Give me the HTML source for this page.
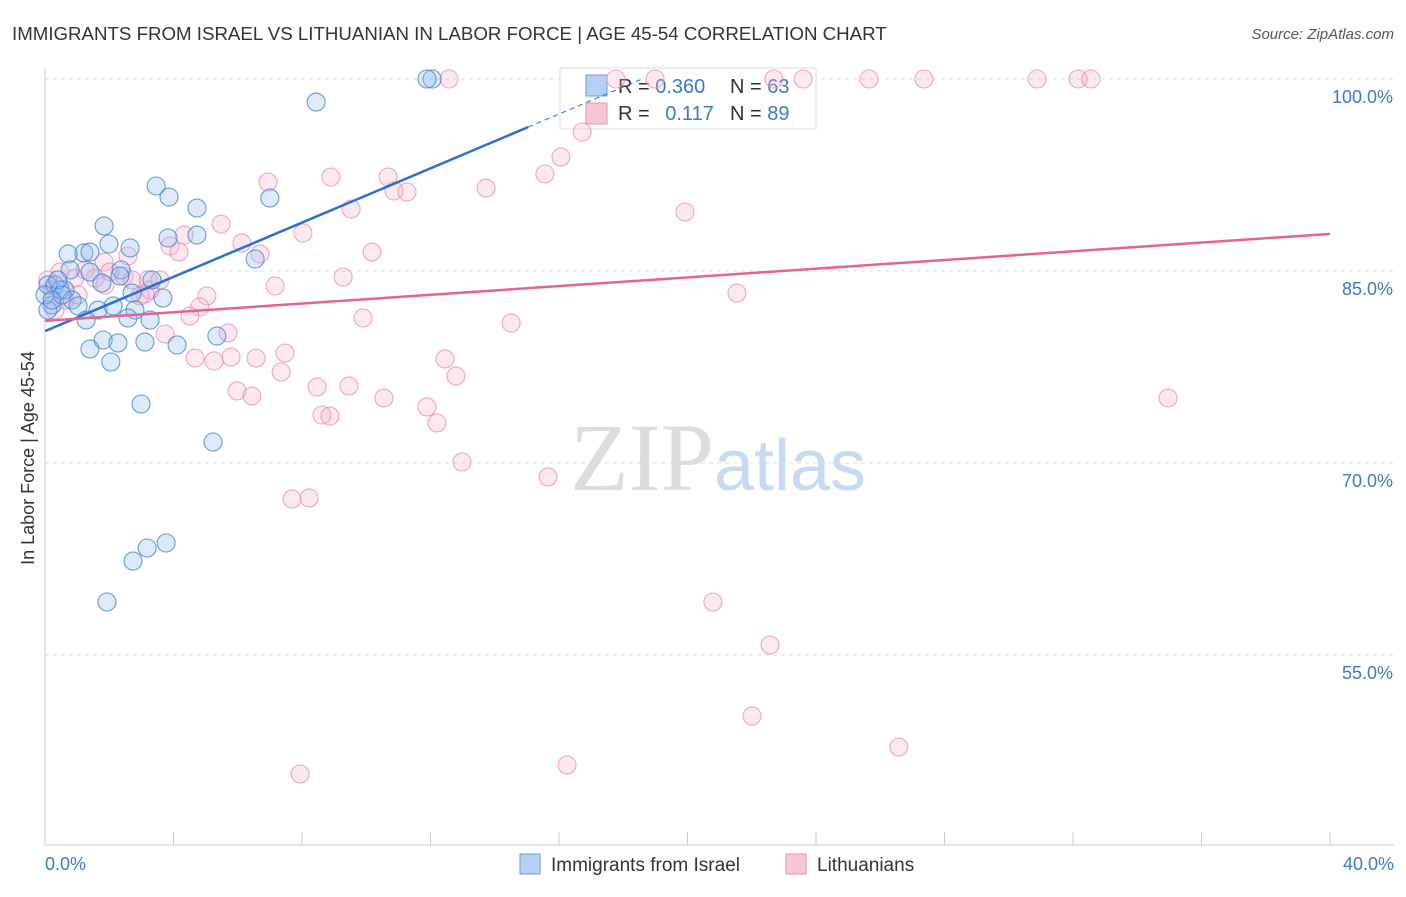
<!DOCTYPE html>
<html><head><meta charset="utf-8"><style>
body{margin:0;background:#fff;font-family:"Liberation Sans",sans-serif}
svg text{font-family:"Liberation Sans",sans-serif}
</style></head><body>
<svg id="c" width="1406" height="892">
<text x="12" y="40" font-size="18.7" fill="#333">IMMIGRANTS FROM ISRAEL VS LITHUANIAN IN LABOR FORCE | AGE 45-54 CORRELATION CHART</text>
<text x="1394" y="39" font-size="15" fill="#555" text-anchor="end" font-style="italic">Source: ZipAtlas.com</text>
<text x="34" y="458" font-size="18" fill="#333" text-anchor="middle" transform="rotate(-90 34 458)">In Labor Force | Age 45-54</text>
<text x="718" y="490" font-size="96" fill="#ddd" text-anchor="middle" font-family="Liberation Serif"><tspan font-family="Liberation Serif">ZIP</tspan><tspan fill="#c8daf2" font-family="Liberation Sans" font-size="72">atlas</tspan></text>
<g id="grid"></g>
<g>
<rect x="560" y="68" width="256" height="61" fill="#fff" stroke="#ddd"/>
<rect x="586" y="75" width="21" height="21" fill="#b5d0f5" stroke="#6a9de0"/>
<rect x="586" y="103" width="21" height="21" fill="#f8c5d5" stroke="#e896b2"/>
<text x="618" y="93" font-size="20" fill="#333">R = <tspan fill="#3a78d8">0.360</tspan></text>
<text x="730" y="93" font-size="20" fill="#333">N = <tspan fill="#3a78d8">63</tspan></text>
<text x="618" y="120" font-size="20" fill="#333">R = <tspan fill="#3a78d8" dx="10">0.117</tspan></text>
<text x="730" y="120" font-size="20" fill="#333">N = <tspan fill="#3a78d8">89</tspan></text>
</g>
<g id="pts"></g><g id="lines"></g>
<g>
<rect x="520" y="854" width="20" height="20" fill="#b5d0f5" stroke="#6a9de0"/>
<text x="551" y="871" font-size="19" fill="#333">Immigrants from Israel</text>
<rect x="786" y="854" width="20" height="20" fill="#f8c5d5" stroke="#e896b2"/>
<text x="817" y="871" font-size="19" fill="#333">Lithuanians</text>
</g>
</svg>
<script>
const yTicks=[100,85,70,55];
const yTickLabels=["100.0%","85.0%","70.0%","55.0%"];
const xTicks=[0,4,8,12,16,20,24,28,32,36,40];
const blueX=[12.05,11.89,8.44,3.46,3.86,7.00,4.73,1.84,3.83,4.73,1.99,2.65,1.21,1.40,0.72,6.54,2.37,0.78,1.40,0.09,0.31,0.62,0.47,3.33,2.33,1.77,2.71,3.67,0.84,1.03,0.22,1.65,2.12,2.80,1.28,2.58,3.27,0.09,5.35,1.81,2.27,3.11,4.11,1.40,2.05,2.99,5.23,3.77,3.18,2.74,1.93,0.40,0.53,0.0,0.22];
const blueY=[100,100,98.2,91.64,90.78,90.7,89.92,88.52,87.58,87.81,87.11,86.8,86.41,86.48,86.33,85.94,85.08,85.08,84.92,83.91,83.91,83.52,83.52,84.3,84.61,84.06,83.28,82.89,82.73,82.27,82.34,81.95,82.27,81.95,81.17,81.33,81.17,81.95,79.92,79.61,79.38,79.45,79.22,78.91,77.89,74.61,71.64,63.75,63.36,62.34,59.14,84.3,83.13,83.13,82.73];
const pinkX=[12.58,17.77,18.99,22.69,23.60,25.65,27.36,30.88,32.16,32.56,16.72,16.06,8.90,15.56,6.94,10.68,10.86,11.27,13.73,9.53,19.92,5.48,4.33,8.03,3.89,6.13,4.17,6.69,10.18,2.58,1.84,3.21,2.46,9.28,7.16,5.04,21.54,3.11,2.96,4.82,4.51,9.90,14.51,3.74,5.70,4.67,5.26,5.79,6.57,7.47,12.45,7.35,12.79,8.47,9.46,5.98,6.44,10.55,11.89,8.62,8.87,12.20,34.96,12.98,15.66,7.69,8.22,20.79,22.57,22.01,26.58,16.25,7.94,0.47,0.93,1.25,1.56,2.02,0.22,0.62,0.31,1.87,2.71,3.27,0.09,1.03,3.58];
const pinkY=[100,100,100,100,100,100,100,100,100,100,95.86,93.91,92.34,92.58,91.95,92.34,91.25,91.17,91.48,89.84,89.61,88.67,87.81,87.97,86.95,87.19,86.48,86.33,86.48,86.17,85.7,84.3,84.61,84.53,83.83,83.05,83.28,83.2,83.05,82.19,81.48,81.33,80.94,80.08,80.16,78.2,77.97,78.28,78.2,78.59,78.13,77.11,76.8,75.94,76.02,75.63,75.23,75.08,74.38,73.75,73.67,73.13,75.08,70.08,68.91,67.19,67.27,59.14,55.78,50.23,47.81,46.41,45.7,84.92,84.45,85.08,84.45,84.92,83.52,82.73,81.95,83.91,84.3,83.52,84.3,83.13,84.3];
const blueTrend=[80.3,1.06];
const pinkTrend=[81.1,0.17];
const X=v=>45+v*32.125, Y=v=>79+(100-v)*12.8;
const NS="http://www.w3.org/2000/svg";
function mk(p,t,a){const e=document.createElementNS(NS,t);for(const k in a)e.setAttribute(k,a[k]);p.appendChild(e);return e;}
const g=document.getElementById('grid');
mk(g,'line',{x1:45,y1:68,x2:45,y2:845,stroke:'#ccc'});
mk(g,'line',{x1:45,y1:845,x2:1394,y2:845,stroke:'#ccc'});
yTicks.forEach((v,i)=>{
 const l=mk(g,'line',{x1:45,y1:Y(v),x2:1394,y2:Y(v),stroke:'#ddd','stroke-dasharray':'4,4'});
 
 
 const t=mk(g,'text',{x:1393,y:Y(v)+24,'font-size':18,fill:'#3a78d8','text-anchor':'end'});t.textContent=yTickLabels[i];
 
 
});
xTicks.forEach(v=>{const l=mk(g,'line',{x1:X(v),y1:832,x2:X(v),y2:845,stroke:'#ccc'});
 
 });
let t=mk(g,'text',{x:45,y:870,'font-size':18,fill:'#3a78d8'});t.textContent='0.0%';


t=mk(g,'text',{x:1394,y:870,'font-size':18,fill:'#3a78d8','text-anchor':'end'});t.textContent='40.0%';


const P=document.getElementById('pts');
pinkX.forEach((x,i)=>{const c=mk(P,'circle',{cx:X(x),cy:Y(pinkY[i]),r:9,fill:'rgba(246,175,200,0.28)',stroke:'rgba(232,140,175,0.75)','stroke-width':1.1});
 
 });
blueX.forEach((x,i)=>{const c=mk(P,'circle',{cx:X(x),cy:Y(blueY[i]),r:9,fill:'rgba(140,185,245,0.3)',stroke:'rgba(70,130,215,0.8)','stroke-width':1.1});
 
 });
const L=document.getElementById('lines');
let bl=mk(L,'line',{x1:X(0),y1:Y(blueTrend[0]),x2:X(15.04),y2:Y(blueTrend[0]+blueTrend[1]*15.04),stroke:'#2a6fd6','stroke-width':2.5});


bl=mk(L,'line',{x1:X(15.04),y1:Y(blueTrend[0]+blueTrend[1]*15.04),x2:X(18.6),y2:Y(blueTrend[0]+blueTrend[1]*18.6),stroke:'#2a6fd6','stroke-width':1,'stroke-dasharray':'5,4'});


const pl=mk(L,'line',{x1:X(0),y1:Y(pinkTrend[0]),x2:X(40),y2:Y(pinkTrend[0]+pinkTrend[1]*40),stroke:'#e4648f','stroke-width':2.5});


</script>
</body></html>
